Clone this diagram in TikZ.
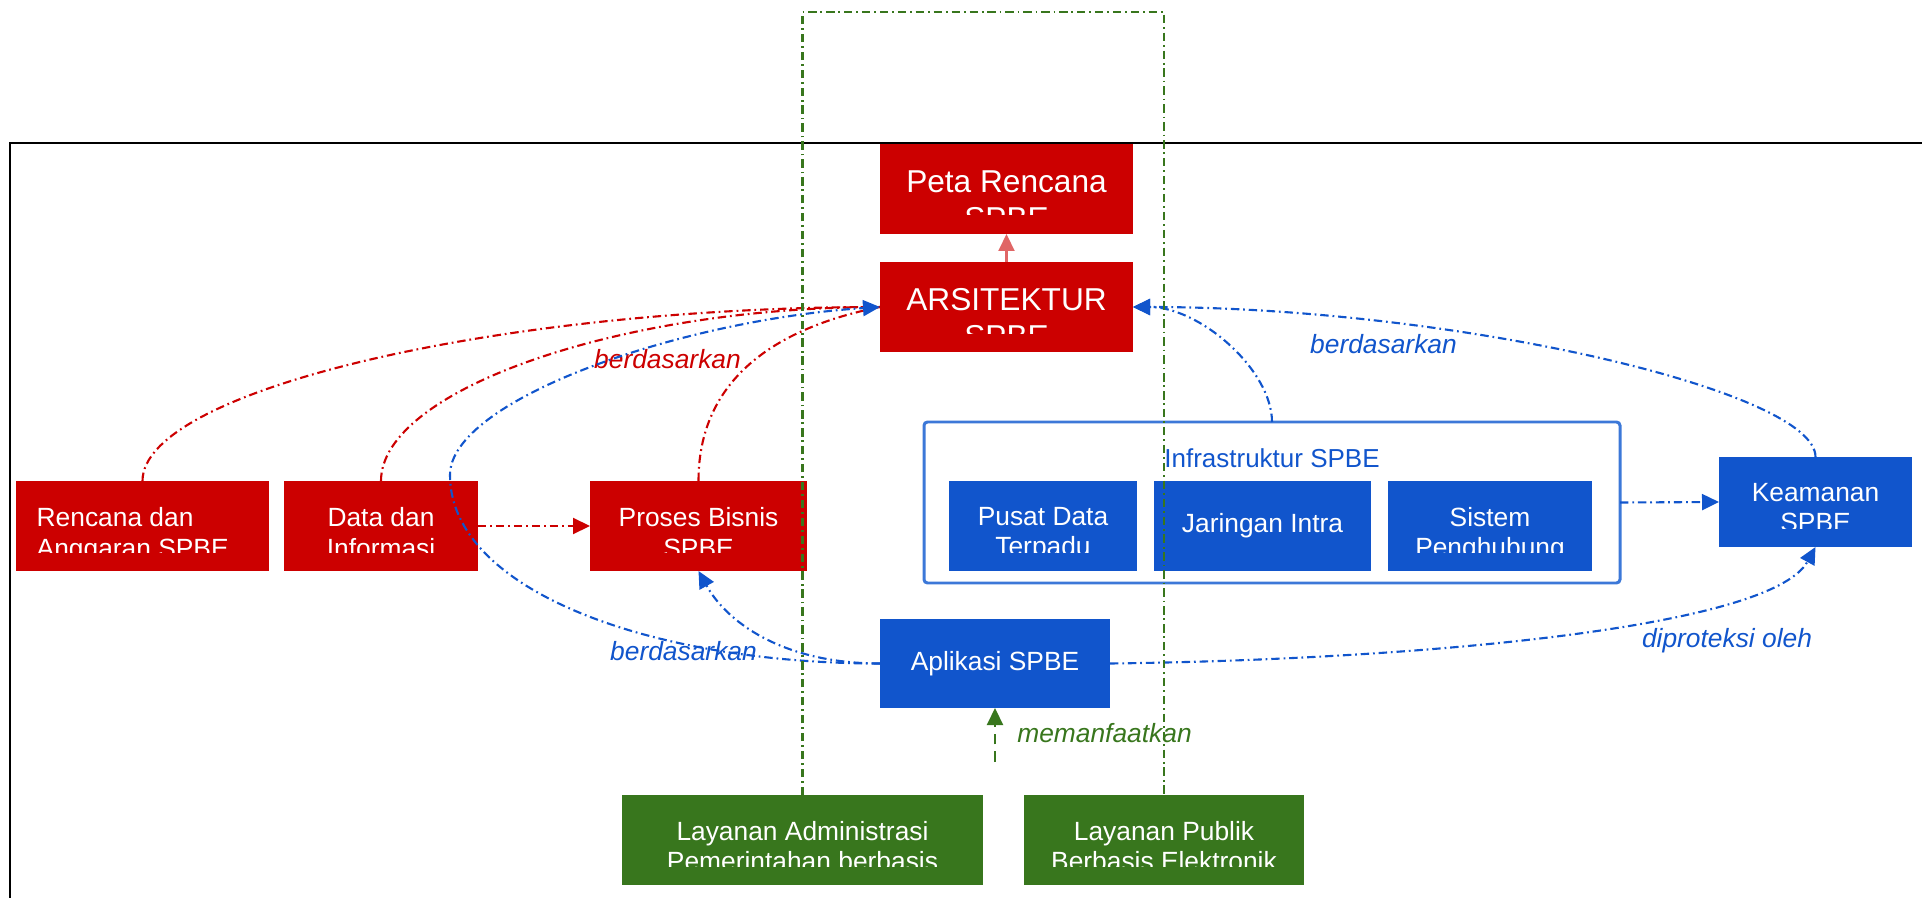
\documentclass[tikz,border=0pt]{standalone}
\usepackage{fontspec}
\setmainfont{Liberation Sans}
\usetikzlibrary{arrows.meta}
\definecolor{spbered}{HTML}{CC0000}
\definecolor{spbeblue}{HTML}{1155CC}
\definecolor{spbegreen}{HTML}{38761D}
\definecolor{infrablue}{HTML}{3C78D8}
\definecolor{lightred}{HTML}{E06666}

\begin{document}
\begin{tikzpicture}[y=-1cm,
		spbebox/.style={rectangle, inner sep=0pt, outer sep=0pt, minimum height=0.9cm},
		redbox/.style={spbebox, fill=spbered},
		bluebox/.style={spbebox, fill=spbeblue},
		greenbox/.style={spbebox, fill=spbegreen},
		boxtext/.style={inner sep=0pt, text=white, align=center, anchor=north, font=\fontsize{7.5}{8.6}\selectfont},
		bigtext/.style={boxtext, font=\fontsize{9}{10.35}\selectfont},
		linklabel/.style={inner sep=0pt, font=\fontsize{7.5}{9}\selectfont\itshape},
		dashdot/.style={line width=0.6pt, dash pattern=on 2.4pt off 1.1pt on 0.5pt off 1.1pt},
		shortdash/.style={line width=0.6pt, dash pattern=on 3pt off 2pt},
		spbetip/.style={-{Triangle[length=1.7mm, width=1.6mm]}}]
	\useasboundingbox (0,0) rectangle (19.22,8.98);

	% Frame
	\draw[line width=0.6pt] (0.10,9.2) |- (19.4,1.43);

	% Peta Rencana
	\node[redbox, minimum width=2.53cm] (peta) at (10.065,1.89) {};
	\node[bigtext] (petatext) at ([yshift=-0.265cm]peta.north) {Peta Rencana\\SPBE};

	% Arsitektur
	\node[redbox, minimum width=2.53cm] (arsitektur) at (10.065,3.07) {};
	\node[bigtext] (arsitekturtext) at ([yshift=-0.26cm]arsitektur.north) {ARSITEKTUR\\SPBE};

	% Rencana dan Anggaran
	\node[redbox, minimum width=2.53cm] (rencana) at (1.425,5.26) {};
	\node[boxtext, anchor=north west, align=left] (rencanatext) at ([xshift=0.2cm, yshift=-0.26cm]rencana.north west) {Rencana dan\\Anggaran SPBE};

	% Data dan Informasi
	\node[redbox, minimum width=1.94cm] (data) at (3.81,5.26) {};
	\node[boxtext] (datatext) at ([yshift=-0.26cm]data.north) {Data dan\\Informasi};

	% Proses Bisnis
	\node[redbox, minimum width=2.17cm] (proses) at (6.985,5.26) {};
	\node[boxtext] (prosestext) at ([yshift=-0.26cm]proses.north) {Proses Bisnis\\SPBE};

	% Infrastruktur
	\node[draw=infrablue, line width=0.85pt, rounded corners=1pt, inner sep=0pt, outer sep=0pt, minimum width=6.96cm, minimum height=1.61cm] (infra) at (12.72,5.025) {};
	\node[inner sep=0pt, text=spbeblue, font=\fontsize{7.4}{8.6}\selectfont] (infratitle) at (12.72,4.585) {Infrastruktur SPBE};
	\node[bluebox, minimum width=1.88cm] (pusat) at (10.43,5.26) {};
	\node[boxtext] (pusattext) at ([yshift=-0.255cm]pusat.north) {Pusat Data\\Terpadu};
	\node[bluebox, minimum width=2.17cm, text=white, font=\fontsize{7.5}{8.6}\selectfont] (jaringan) at (12.625,5.26) {Jaringan Intra};
	\node[bluebox, minimum width=2.04cm] (sistem) at (14.90,5.26) {};
	\node[boxtext] (sistemtext) at ([yshift=-0.255cm]sistem.north) {Sistem\\Penghubung};

	% Keamanan
	\node[bluebox, minimum width=1.93cm] (keamanan) at (18.155,5.02) {};
	\node[boxtext] (keamanantext) at ([yshift=-0.255cm]keamanan.north) {Keamanan\\SPBE};

	% Aplikasi
	\node[bluebox, minimum width=2.30cm, minimum height=0.89cm, text=white, font=\fontsize{7.5}{8.6}\selectfont] (aplikasi) at (9.95,6.635) {Aplikasi SPBE};

	% Layanan
	\node[greenbox, minimum width=3.61cm] (admin) at (8.025,8.40) {};
	\node[boxtext] (admintext) at ([yshift=-0.255cm]admin.north) {Layanan Administrasi\\Pemerintahan berbasis};
	\node[greenbox, minimum width=2.80cm] (publik) at (11.64,8.40) {};
	\node[boxtext] (publiktext) at ([yshift=-0.255cm]publik.north) {Layanan Publik\\Berbasis Elektronik};

	% cut off text
	\foreach \b/\c in {peta/spbered, arsitektur/spbered, rencana/spbered, data/spbered, proses/spbered, pusat/spbeblue, sistem/spbeblue, keamanan/spbeblue, admin/spbegreen, publik/spbegreen}
		\fill[\c] (\b.south west) rectangle ([yshift=0.185cm]\b.south east);

	% Arsitektur -> Peta
	\draw[lightred, shortdash, spbetip] (arsitektur.north) -- (peta.south);

	% red links
	\draw[spbered, dashdot] (rencana.north) .. controls +(0,-0.91) and +(-3.8,0) .. (arsitektur.west);
	\draw[spbered, dashdot] (data.north) .. controls +(0,-0.91) and +(-2.6,0) .. (arsitektur.west);
	\draw[spbered, dashdot] (proses.north) .. controls +(0,-1.11) and +(-0.9,0.18) .. (arsitektur.west);
	\draw[spbered, dashdot, spbetip] (data.east) -- (proses.west);
	\node[linklabel, text=spbered] (lblarsi) at (6.675,3.595) {berdasarkan};

	% blue links
	\coordinate (bend) at (4.5,4.75);
	\draw[spbeblue, dashdot, spbetip] (aplikasi.west) .. controls +(-2.3,0) and +(0,1.15) .. (bend) .. controls +(0,-0.75) and +(-2.0,0.13) .. (arsitektur.west);
	\draw[spbeblue, dashdot, spbetip] (aplikasi.west) .. controls +(-1.0,0) and +(0.27,0.49) .. (proses.south);
	\node[linklabel, text=spbeblue] (lblproses) at (6.835,6.51) {berdasarkan};
	\draw[spbeblue, dashdot, spbetip] (infra.north) .. controls +(0,-0.52) and +(0.67,0) .. (arsitektur.east);
	\draw[spbeblue, dashdot, spbetip] (keamanan.north) .. controls +(0,-0.67) and +(3.17,0) .. (arsitektur.east);
	\node[linklabel, text=spbeblue] (lblkeamanan) at (13.835,3.436) {berdasarkan};
	\draw[spbeblue, dashdot, spbetip] (infra.east) -- (keamanan.west);
	\draw[spbeblue, dashdot, spbetip] (aplikasi.east) .. controls +(2.9,-0.035) and +(-0.455,0.83) .. (keamanan.south);
	\node[linklabel, text=spbeblue] (lblproteksi) at (17.27,6.41) {diproteksi oleh};

	% green links
	\coordinate (layanan) at (9.95,7.62);
	\draw[spbegreen, shortdash, spbetip] (layanan) -- (aplikasi.south);
	\node[linklabel, text=spbegreen] (lblmanfaat) at (11.045,7.33) {memanfaatkan};
	\draw[spbegreen, dashdot] (admin.north) -- ++(0,-7.83) -| (publik.north);
\end{tikzpicture}
\end{document}
